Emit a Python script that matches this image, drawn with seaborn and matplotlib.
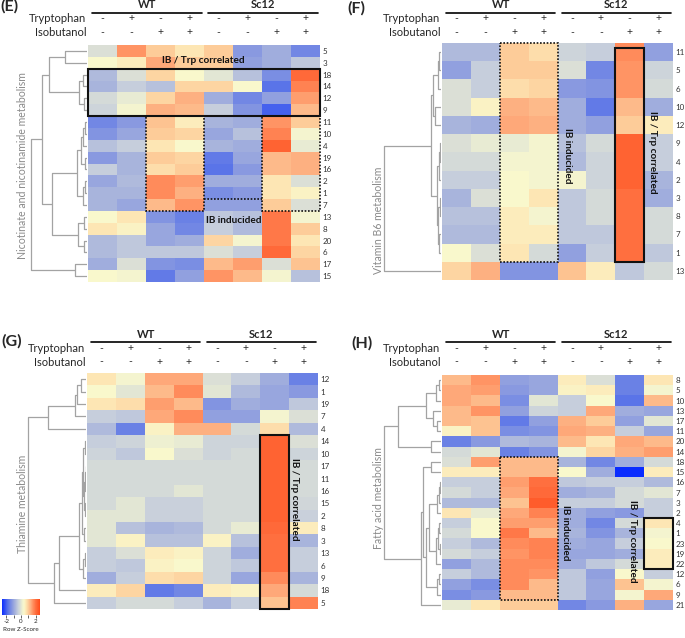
"""Clustered z-score heatmaps (E-H) for four metabolic pathways."""

import numpy as np
import pandas as pd
import matplotlib
matplotlib.use("Agg")
import matplotlib.pyplot as plt
import seaborn as sns
from matplotlib.colors import LinearSegmentedColormap, Normalize
from matplotlib.cm import ScalarMappable
from matplotlib.patches import Rectangle
from matplotlib.transforms import blended_transform_factory

# ---------------- data ----------------
conditions = ["WT -/-", "WT +/-", "WT -/+", "WT +/+",
              "Sc12 -/-", "Sc12 +/-", "Sc12 -/+", "Sc12 +/+"]
tryptophan = ["-", "+", "-", "+", "-", "+", "-", "+"]
isobutanol = ["-", "-", "+", "+", "-", "-", "+", "+"]

e_rows = ["5", "3", "18", "14", "12", "9", "11", "10", "4", "19", "16",
          "2", "1", "7", "13", "8", "20", "6", "17", "15"]
e_values = [
    [-0.1, 1.6, 1.0, 0.7, 1.0, -1.2, -0.9, -1.5],
    [0.4, 0.6, 1.4, 1.0, 1.0, -1.1, -0.9, -0.5],
    [-0.7, -0.1, 0.9, 0.4, 0.0, -0.6, -1.4, 2.1],
    [-0.8, -0.4, -0.6, 0.9, 0.9, 0.4, -1.8, 1.8],
    [-0.2, 0.1, 0.9, 1.3, -0.9, -1.5, -1.1, 1.5],
    [-0.3, 0.3, 1.3, 1.2, -0.4, -1.3, -2.0, 1.2],
    [-1.5, -1.2, 1.1, 0.6, -0.8, -0.9, 1.6, 1.0],
    [-1.3, -1.0, 1.0, 0.9, -1.0, -0.6, 1.8, 0.3],
    [-0.6, -0.4, 0.7, 0.4, -0.8, -0.9, 2.2, 0.1],
    [-1.2, -0.8, 1.0, 0.9, -1.7, -1.0, 1.2, 1.3],
    [-0.4, -0.8, 0.8, 1.0, -1.8, -1.2, 1.2, 1.3],
    [-1.0, -0.7, 1.7, 1.5, -0.9, -0.9, 0.7, -0.1],
    [-0.8, -0.8, 1.7, 1.3, -1.4, -1.2, 0.7, 0.5],
    [-0.8, -1.0, 1.2, 1.6, -1.1, -1.1, 1.0, -0.1],
    [0.4, 0.7, -1.3, -1.6, -0.5, -0.6, 1.9, 0.3],
    [0.7, 0.5, -1.0, -1.5, -0.4, -0.7, 1.9, 1.0],
    [-0.7, -0.5, -1.0, -0.9, 0.9, 0.3, 1.9, 0.7],
    [-0.7, -0.5, -0.5, -0.5, -0.1, -0.4, 2.1, 0.9],
    [-0.9, -0.1, -1.3, -1.4, 1.2, 1.5, -0.1, 1.1],
    [0.4, 0.3, -1.7, -1.1, 1.6, 1.2, 0.3, -0.6],
]
# tree: [left, right, merge height]; leaves are row labels
e_tree = [
    [[["5", "3", 22], [["18", "14", 4], ["12", "9", 3], 8], 38],
     [[[[["11", "10", 2], "4", 4], ["19", "16", 2], 6], [["2", "1", 2], "7", 4], 10],
      [["13", "8", 3], ["20", "6", 3], 9], 35],
     45],
    ["17", "15", 12],
    56]

f_rows = ["11", "5", "6", "10", "12", "9", "4", "2", "3", "8", "7", "1", "13"]
f_values = [
    [-0.7, -0.7, 1.0, 0.8, -0.3, -0.4, 1.7, -1.1],
    [-1.1, -0.4, 1.0, 1.0, -0.1, -1.5, 1.6, -0.3],
    [-0.1, -0.4, 0.8, 0.9, -1.2, -1.3, 1.6, -0.2],
    [-0.1, 0.5, 1.3, 1.2, -0.9, -1.7, 1.2, -0.9],
    [-0.8, -0.9, 1.4, 1.3, -0.9, -1.1, 1.0, 0.6],
    [-0.1, 0.1, 0.1, 0.3, -0.6, -0.2, 2.2, -0.4],
    [-0.2, -0.2, 0.3, 0.3, -0.7, -0.3, 2.2, -0.4],
    [-0.4, -0.4, 0.4, 0.3, 0.3, -0.3, 2.2, -0.8],
    [-0.8, -0.1, 0.4, 0.7, -0.5, -0.2, 2.0, -0.9],
    [-0.6, -0.6, 0.6, 0.3, -0.5, -0.2, 2.0, -0.2],
    [-0.7, -0.7, 0.6, 0.6, -0.5, -0.5, 2.0, -0.2],
    [0.4, -0.1, 0.7, -0.2, -1.1, -0.4, 2.0, -0.5],
    [0.9, 1.3, -1.3, -1.3, 1.1, 0.6, -0.5, -0.2],
]
f_tree = [
    [[[["11", "5", 2], "6", 3], ["10", "12", 6], 8],
     [[["9", "4", 1.5], "2", 2.5], [["3", "8", 1.5], ["7", "1", 2], 3], 4],
     10],
    "13", 57]

g_rows = ["12", "1", "19", "7", "4", "14", "10", "17", "11", "16", "15",
          "2", "8", "3", "13", "6", "9", "18", "5"]
g_values = [
    [0.7, 0.3, 1.4, 1.4, -0.1, -0.4, -0.9, -1.6],
    [0.4, 0.0, 1.2, 1.7, 0.0, -0.7, -1.0, -1.2],
    [0.7, 0.8, 1.5, 1.2, -1.3, -0.9, -1.0, -0.5],
    [-0.4, -0.5, 1.4, 1.7, -1.1, -1.1, 0.3, -0.1],
    [-0.7, -1.6, 0.5, 1.3, 1.3, -0.2, 0.8, -0.7],
    [-0.4, -0.3, 0.2, 0.1, -0.3, -0.3, 2.2, -0.1],
    [-0.3, -0.5, 0.4, -0.1, -0.3, -0.2, 2.2, -0.3],
    [-0.2, -0.2, -0.2, -0.2, -0.2, -0.2, 2.2, -0.2],
    [-0.2, -0.2, -0.2, -0.2, -0.2, -0.2, 2.2, -0.2],
    [-0.2, -0.2, -0.2, 0.0, -0.2, -0.2, 2.2, -0.2],
    [-0.2, 0.0, -0.35, -0.35, -0.2, -0.2, 2.2, -0.25],
    [0.0, 0.0, -0.35, -0.35, -0.2, -0.2, 2.2, -0.35],
    [0.0, -0.6, -0.8, -0.7, -0.2, 0.1, 2.1, 0.6],
    [0.0, 0.5, -0.6, -0.6, 0.5, -0.6, 2.0, -0.8],
    [-0.4, -0.1, 0.6, 0.5, -0.3, -0.9, 2.0, -0.4],
    [-0.4, -0.5, 0.5, 0.4, -0.3, -0.5, 2.0, -0.4],
    [-0.9, -0.4, 0.8, 0.9, -0.3, -1.0, 1.7, -0.8],
    [0.6, 0.9, -1.7, -1.5, 0.6, 0.5, 1.4, -0.2],
    [-0.4, -0.2, -0.2, -0.4, -0.8, -0.4, 1.1, 1.8],
]
g_tree = [
    [[[["12", "1", 5], "19", 9], "7", 11], "4", 38],
    [[[[[["14", "10", 1.5], [[["17", "11", 0.5], "16", 1], ["15", "2", 1.5], 2], 3],
         ["8", "3", 2], 4.5],
        [["13", "6", 1.5], "9", 3], 7],
       "18", 27],
      "5", 32],
    58]

h_rows = ["8", "5", "10", "13", "17", "11", "20", "14", "18", "15", "16", "7",
          "3", "2", "4", "1", "23", "19", "22", "12", "6", "9", "21"]
h_values = [
    [1.2, 1.6, -1.1, -1.0, 0.6, -0.1, -1.6, 0.7],
    [1.4, 1.5, -1.2, -1.0, 0.5, 0.6, -1.6, 0.3],
    [1.4, 1.2, -1.4, 0.0, -0.4, 0.4, -1.8, 1.2],
    [1.2, 1.6, -1.1, -0.3, -0.4, 1.4, -0.9, -1.0],
    [1.2, 1.1, -1.7, -1.1, 1.3, 1.0, -1.1, 0.0],
    [0.5, 1.1, -1.4, -1.3, 1.4, 1.3, -0.4, -1.0],
    [-1.6, -1.2, -0.7, -0.8, 1.2, 0.7, 1.4, 1.2],
    [-0.2, 0.0, -1.6, -1.3, 0.3, 0.9, 1.3, 1.5],
    [-0.1, 1.5, 1.2, 1.2, -0.8, -1.5, -0.9, -0.2],
    [0.6, 0.6, 1.2, 1.2, 0.4, -0.9, -2.6, 0.6],
    [-0.4, -0.4, 1.5, 2.0, -0.5, -0.4, -0.4, -0.7],
    [-0.2, -0.4, 1.4, 2.1, -0.9, -0.8, -0.2, 0.0],
    [-0.7, -0.7, 1.1, 2.3, -0.4, -0.4, -0.2, -0.4],
    [0.7, 0.1, 1.4, 1.8, -0.9, -1.1, -1.2, -0.4],
    [-0.4, 0.4, 1.5, 1.5, -0.9, -1.5, -0.2, 0.7],
    [-0.2, 0.4, 1.9, 1.2, -0.8, -1.3, -0.8, 0.3],
    [-0.4, -0.7, 1.7, 1.8, -0.9, -1.0, -0.4, 0.4],
    [-0.2, -0.4, 1.6, 1.8, -1.0, -1.0, -0.9, 0.6],
    [-1.1, -0.7, 1.7, 1.7, -0.9, -0.5, -0.2, 0.6],
    [-0.4, -0.7, 1.7, 1.6, -0.5, -1.1, 0.4, -0.4],
    [-1.1, -1.4, 1.7, 1.2, -0.5, -1.0, 1.1, 0.3],
    [-1.4, -1.2, 1.2, 1.2, -0.5, -1.0, 0.3, 1.4],
    [0.1, 0.7, 1.0, 1.0, -1.5, -1.2, 1.3, -1.0],
]
h_tree = [
    [[[["8", "5", 2], "10", 5], ["13", ["17", "11", 4], 8], 15],
     ["20", "14", 10], 43],
    [[["18", "15", 10],
      [[[[["16", "7", 1], "3", 2], "2", 4],
         [[["4", "1", 2], ["23", "19", 1.5], 3], "22", 5], 12],
        [["12", "6", 2], "9", 4], 15],
      18],
     "21", 20],
    57]

# ---------------- style ----------------
W, H = 685, 638
VMIN, VMAX = -2.6, 2.6
stops = [(-2.6, "#0a2cff"), (-1.8, "#5a74e8"), (-1.2, "#8a9ae0"), (-0.8, "#a8b4dc"),
         (-0.4, "#c6cedc"), (-0.1, "#dadfd6"), (0.15, "#eceed2"), (0.4, "#f9f8cc"),
         (0.7, "#fde6b4"), (1.0, "#fdcd9a"), (1.3, "#fdb283"), (1.6, "#ff9464"),
         (2.0, "#ff7040"), (2.6, "#ff4a18")]
cmap = LinearSegmentedColormap.from_list(
    "rowz", [((v - VMIN) / (VMAX - VMIN), c) for v, c in stops])

sns.set_style("white")
plt.rcParams["font.family"] = ["Lato", "DejaVu Sans"]
plt.rcParams["axes.unicode_minus"] = False

fig = plt.figure(figsize=(W / 100, H / 100), dpi=100)


def px_rect(x0, y0, x1, y1):
    return [x0 / W, 1 - y1 / H, (x1 - x0) / W, (y1 - y0) / H]


def fy(y):
    return 1 - y / H


def draw_tree(ax, node, pos):
    if isinstance(node, str):
        return pos[node], 0
    left, right, h = node
    yl, hl = draw_tree(ax, left, pos)
    yr, hr = draw_tree(ax, right, pos)
    ax.plot([hl, h, h, hr], [yl, yl, yr, yr], color="#a3a3a3", lw=0.9,
            solid_capstyle="butt")
    return (yl + yr) / 2, h


def draw_panel(letter, letter_xy, rows, values, tree, box, dendro_x0,
               head_y, ylabel, ylabel_xy):
    x0, y0, x1, y1 = box
    ax = fig.add_axes(px_rect(x0, y0, x1, y1))
    df = pd.DataFrame(values, index=rows, columns=conditions)
    sns.heatmap(df, ax=ax, cmap=cmap, vmin=VMIN, vmax=VMAX, cbar=False,
                xticklabels=False, yticklabels=True)
    ax.yaxis.tick_right()
    ax.tick_params(axis="y", labelsize=5.8, length=0, pad=1.8, labelrotation=0,
                   labelcolor="#333333")
    ax.set_xlabel("")
    ax.set_ylabel("")

    dax = fig.add_axes(px_rect(dendro_x0, y0, x0 - 1, y1))
    draw_tree(dax, tree, {r: i + 0.5 for i, r in enumerate(rows)})
    dax.set_xlim(x0 - 1 - dendro_x0, 0)
    dax.set_ylim(len(rows), 0)
    dax.axis("off")

    # column header
    y_grp, y_line, y_trp, y_iso = head_y
    tr = blended_transform_factory(ax.transData, fig.transFigure)
    for g, (a, b) in zip(["WT", "Sc12"], [(0.15, 3.92), (4.15, 7.92)]):
        ax.text((a + b) / 2, fy(y_grp), g, transform=tr, ha="center",
                va="center", fontsize=8, fontweight="bold")
        ax.plot([a, b], [fy(y_line)] * 2, transform=tr, color="black",
                lw=1.2, clip_on=False)
    ax.text(-0.05, fy(y_trp), "Tryptophan", transform=tr, ha="right",
            va="center", fontsize=8)
    ax.text(-0.05, fy(y_iso), "Isobutanol", transform=tr, ha="right",
            va="center", fontsize=8)
    for i, (t, s) in enumerate(zip(tryptophan, isobutanol)):
        ax.text(i + 0.5, fy(y_trp), t, transform=tr, ha="center",
                va="center", fontsize=7.5)
        ax.text(i + 0.5, fy(y_iso), s, transform=tr, ha="center",
                va="center", fontsize=7.5)

    fig.text(letter_xy[0] / W, fy(letter_xy[1]), letter, fontsize=11.5,
             fontweight="bold", ha="left", va="center")
    fig.text(ylabel_xy[0] / W, fy(ylabel_xy[1]), ylabel, rotation=90,
             ha="center", va="center", fontsize=7.6, color="#8a8a8a")
    return ax


def box(ax, x, y, w, h, dotted=False):
    ls = (0, (1, 1)) if dotted else "-"
    ax.add_patch(Rectangle((x, y), w, h, fill=False, ec="#111111",
                           lw=1.2 if dotted else 1.5, ls=ls, clip_on=False,
                           zorder=5))


def note(ax, x, y, s, rot=0):
    ax.text(x, y, s, ha="center", va="center", fontsize=7.2,
            fontweight="bold", rotation=rot, zorder=6, color="#111111")


axE = draw_panel("(E)", (0, 6), e_rows, e_values, e_tree, (88, 45, 320, 282),
                 20, (4, 13, 19, 33), "Nicotinate and nicotinamide metabolism",
                 (23, 166))
axF = draw_panel("(F)", (347, 8), f_rows, f_values, f_tree, (442, 43, 673, 280),
                 375, (4, 13, 19, 33), "Vitamin B6 metabolism", (378, 220))
axG = draw_panel("(G)", (1, 341), g_rows, g_values, g_tree, (87, 373, 318, 609),
                 20, (334, 342, 349, 362), "Thiamine metabolism", (23, 504))
axH = draw_panel("(H)", (351, 343), h_rows, h_values, h_tree, (442, 375, 673, 610),
                 375, (334, 342, 349, 362), "Fatty acid metabolism", (378, 498))

# annotations
box(axE, 0, 2, 8, 4)
box(axE, 2, 6, 2, 8, dotted=True)
box(axE, 6, 6, 2, 8, dotted=True)
axE.plot([4, 6], [13, 13], color="#111111", lw=1.2, ls=(0, (1, 1)), zorder=5)
note(axE, 3.97, 1.27, "IB / Trp correlated")
note(axE, 5.03, 14.8, "IB inducided")

box(axF, 2, 0, 2, 12, dotted=True)
box(axF, 6, 0.25, 1, 11.75)
note(axF, 4.33, 6.2, "IB inducided", rot=270)
note(axF, 7.3, 6.0, "IB / Trp correlated", rot=270)

box(axG, 6, 5, 1, 14)
note(axG, 7.2, 10.2, "IB / Trp correlated", rot=270)

box(axH, 2, 8, 2, 14, dotted=True)
box(axH, 7, 14, 1, 5)
note(axH, 4.26, 15.4, "IB inducided", rot=270)
note(axH, 6.6, 16.3, "IB / Trp correlated", rot=270)

# colour key
cax = fig.add_axes(px_rect(2, 599, 40, 615))
cb = fig.colorbar(ScalarMappable(norm=Normalize(VMIN, VMAX), cmap=cmap),
                  cax=cax, orientation="horizontal", ticks=[-2, -1, 0, 1, 2])
cb.outline.set_visible(False)
cb.ax.set_xticklabels(["-2", "", "0", "", "2"])
cb.ax.tick_params(labelsize=4.5, length=2, width=0.5, pad=1)
cb.set_label("Row Z-Score", fontsize=4.5, labelpad=2)

fig.savefig("out.png", dpi=100)
